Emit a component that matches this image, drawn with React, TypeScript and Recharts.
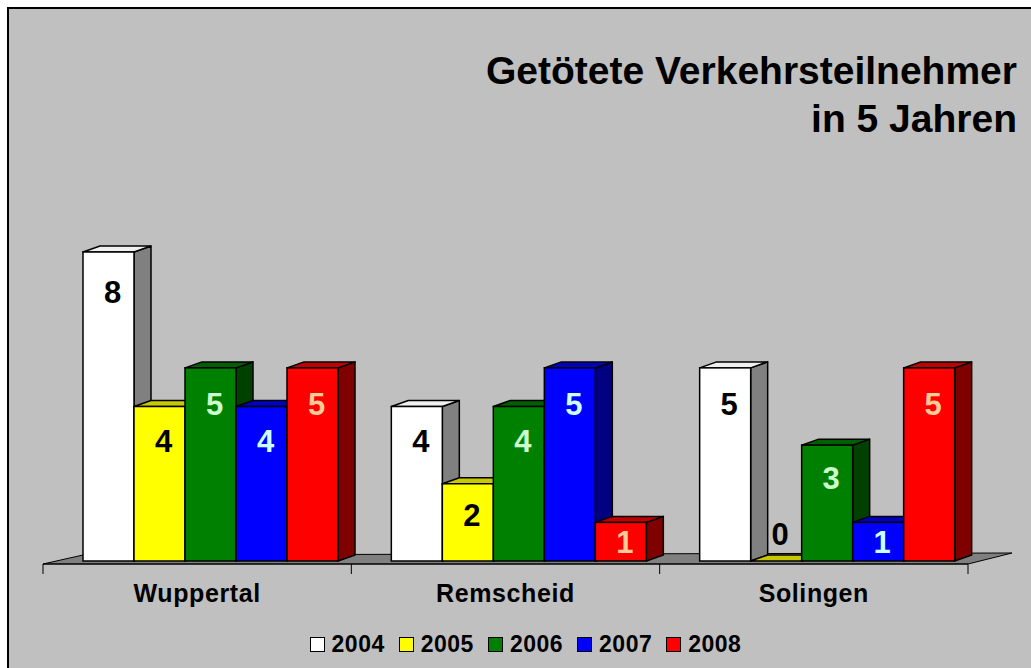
import React from 'react';
import { BarChart, Bar, XAxis, YAxis, Legend, ReferenceArea } from 'recharts';

const categories = ['Wuppertal', 'Remscheid', 'Solingen'];
const years = ['2004', '2005', '2006', '2007', '2008'];
const v2004 = [8, 4, 5];
const v2005 = [4, 2, 0];
const v2006 = [5, 4, 3];
const v2007 = [4, 5, 1];
const v2008 = [5, 1, 5];
const seriesValues = [v2004, v2005, v2006, v2007, v2008];

const frontColors = ['#FFFFFF', '#FFFF00', '#008000', '#0000FF', '#FF0000'];
const topColors = ['#F0F0F0', '#C8C800', '#006000', '#0000C0', '#C00000'];
const sideColors = ['#808080', '#808000', '#004000', '#000080', '#800000'];
const labelColors = ['#000000', '#000000', '#CCFFCC', '#CCFFFF', '#FFCC99'];

const data = categories.map((c, i) => {
  const row: any = { name: c };
  years.forEach((y, s) => {
    row['y' + y] = seriesValues[s][i];
  });
  return row;
});

const FONT = '"Liberation Sans", Arial, Helvetica, sans-serif';
const DX = 17;
const DY = 6;
const SX = 14;
const SY = 3;

function makeShape(s: number) {
  const key = 'y' + years[s];
  return (p: any) => {
    const { x, y, width: w, height: h } = p;
    if (x == null || y == null) return null;
    const hh = Math.max(0, h || 0);
    const fx = x + SX;
    const fy = y - SY;
    const by = fy + hh;
    const val = p.payload ? p.payload[key] : undefined;
    const ly = val === 0 ? fy - 16 : fy + Math.min(hh / 2, 28 + hh * 0.04) + 11;
    return (
      <g>
        <polygon
          points={`${fx + w},${fy} ${fx + w + DX},${fy - DY} ${fx + w + DX},${by - DY} ${fx + w},${by}`}
          fill={sideColors[s]}
          stroke="#000"
          strokeWidth={1.5}
          strokeLinejoin="round"
        />
        <polygon
          points={`${fx},${fy} ${fx + w},${fy} ${fx + w + DX},${fy - DY} ${fx + DX},${fy - DY}`}
          fill={topColors[s]}
          stroke="#000"
          strokeWidth={1.5}
          strokeLinejoin="round"
        />
        <rect x={fx} y={fy} width={w} height={hh} fill={frontColors[s]} stroke="#000" strokeWidth={1.5} />
        {val != null && (
          <text
            x={fx + w / 2 + 4}
            y={ly}
            textAnchor="middle"
            fontFamily={FONT}
            fontWeight="bold"
            fontSize={31}
            fill={labelColors[s]}
          >
            {val}
          </text>
        )}
      </g>
    );
  };
}

const FloorShape = (p: any) => {
  const { x, y, width, height } = p;
  if (x == null) return null;
  const b = y + height;
  return (
    <polygon
      points={`${x},${b} ${x + width},${b} ${x + width + 44},${b - 11} ${x + 40},${b - 9}`}
      fill="#808080"
      stroke="#000"
      strokeWidth={1}
    />
  );
};

const CategoryTick = (p: any) => {
  const { x, y, payload, index } = p;
  const off = payload && payload.offset != null ? payload.offset : 0;
  const last = index === categories.length - 1;
  return (
    <g>
      <line x1={x - off} y1={y} x2={x - off} y2={y + 10} stroke="#000" strokeWidth={1} />
      {last && <line x1={x + off} y1={y} x2={x + off} y2={y + 10} stroke="#000" strokeWidth={1} />}
      <text
        x={x}
        y={y + 38}
        textAnchor="middle"
        fontFamily={FONT}
        fontWeight="bold"
        fontSize={25}
        letterSpacing={0.6}
        fill="#000"
      >
        {payload.value}
      </text>
    </g>
  );
};

const LegendContent = () => (
  <div
    style={{
      display: 'flex',
      justifyContent: 'center',
      alignItems: 'center',
      height: 24,
      paddingLeft: 20,
      fontFamily: FONT,
      fontWeight: 'bold',
      fontSize: 23,
      letterSpacing: 0.5,
      color: '#000',
    }}
  >
    {years.map((yr, i) => (
      <div key={yr} style={{ display: 'flex', alignItems: 'center', marginRight: i < years.length - 1 ? 14 : 0 }}>
        <span
          style={{
            display: 'inline-block',
            width: 13,
            height: 13,
            border: '1.5px solid #000',
            background: frontColors[i],
            marginRight: 7,
          }}
        />
        <span style={{ lineHeight: '24px' }}>{yr}</span>
      </div>
    ))}
  </div>
);

export default function App() {
  return (
    <div
      style={{
        position: 'absolute',
        left: 0,
        top: 0,
        width: 1031,
        height: 668,
        overflow: 'hidden',
        background: '#FFFFFF',
      }}
    >
      <div
        style={{
          position: 'absolute',
          left: 7,
          top: 7,
          width: 1031,
          height: 668,
          background: '#C0C0C0',
          borderLeft: '2px solid #000',
          borderTop: '2px solid #000',
        }}
      />
      <div
        style={{
          position: 'absolute',
          right: 14,
          top: 47,
          textAlign: 'right',
          fontFamily: FONT,
          fontWeight: 'bold',
          fontSize: 39,
          lineHeight: '48px',
          color: '#000',
          whiteSpace: 'nowrap',
        }}
      >
        <div>Getötete Verkehrsteilnehmer</div>
        <div>in 5 Jahren</div>
      </div>
      <div style={{ position: 'absolute', left: 0, top: 0 }}>
        <BarChart
          width={1031}
          height={668}
          data={data}
          margin={{ top: 255, right: 63, left: 43, bottom: 12 }}
          barCategoryGap={26}
          barGap={0}
        >
          <YAxis hide domain={[0, 8]} />
          <XAxis
            dataKey="name"
            height={68}
            tickLine={false}
            tickSize={0}
            tickMargin={0}
            axisLine={{ stroke: '#000', strokeWidth: 1 }}
            tick={<CategoryTick />}
            interval={0}
          />
          <ReferenceArea y1={0} y2={0.1} shape={<FloorShape />} ifOverflow="visible" zIndex={-10} />
          {years.map((yr, s) => (
            <Bar
              key={yr}
              dataKey={'y' + yr}
              name={yr}
              fill={frontColors[s]}
              isAnimationActive={false}
              shape={makeShape(s)}
            />
          ))}
          <Legend
            verticalAlign="bottom"
            height={24}
            content={<LegendContent />}
            wrapperStyle={{ left: 0, width: 1031, bottom: 12, height: 24 }}
          />
        </BarChart>
      </div>
    </div>
  );
}
